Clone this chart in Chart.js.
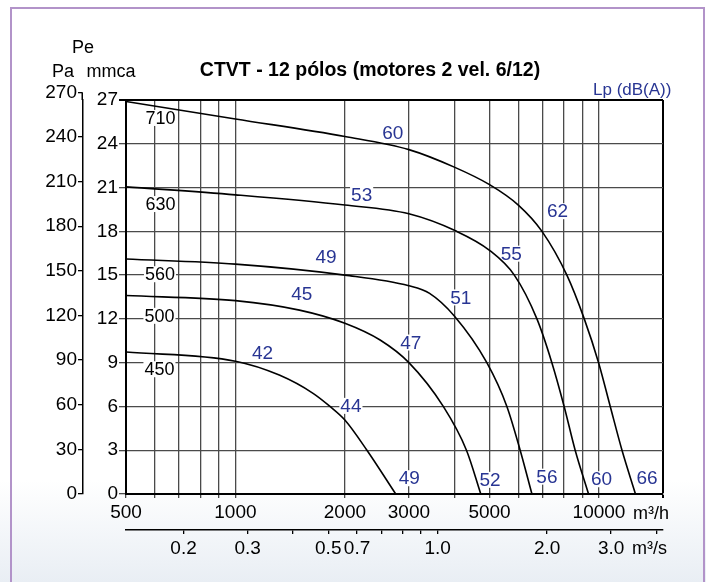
<!DOCTYPE html>
<html>
<head>
<meta charset="utf-8">
<script src="https://cdn.jsdelivr.net/npm/chart.js@4.4.1/dist/chart.umd.min.js"></script>
<style>
  html, body { margin: 0; padding: 0; background: #fff; }
  #wrap {
    position: relative; width: 706px; height: 582px; overflow: hidden;
    background: linear-gradient(to bottom, #fff 0px, #fff 480px, #e9eef4 582px);
  }
  #frame {
    position: absolute; left: 10px; top: 7px; width: 695px; height: 640px;
    border: 2px solid #b293c9; box-sizing: border-box;
  }
  #chart { position: absolute; left: 0; top: 0; }
</style>
</head>
<body>
<div id="wrap">
  <div id="frame"></div>
  <canvas id="chart" width="706" height="582"></canvas>
</div>
<script>
// axis ticks (flow in m3/h on the main axis, m3/s on the second one)
const flowTicks = [500, 600, 700, 800, 900, 1000, 2000, 3000, 4000, 5000, 6000, 7000, 8000, 9000, 10000, 15000];
const flowLabels = ['500', '', '', '', '', '1000', '2000', '3000', '', '5000', '', '', '', '', '10000', ''];
const flowTicksS = [0.2, 0.3, 0.4, 0.5, 0.6, 0.7, 0.8, 0.9, 1.0, 2.0, 3.0, 4.0];
const flowLabelsS = ['0.2', '0.3', '', '0.5', '0.7', '', '', '', '1.0', '2.0', '3.0', ''];
const mmcaTicks = [0, 3, 6, 9, 12, 15, 18, 21, 24, 27];
const paTicks = [0, 30, 60, 90, 120, 150, 180, 210, 240, 270];

// fan curves: flow (m3/h) and pressure (mmca)
const sizes = ['710', '630', '560', '500', '450'];
const flow710 = [500, 1000, 2000, 3000, 4000, 5000, 6000, 6970, 8160, 9110, 9975, 10740, 11570, 12600];
const pres710 = [26.9, 25.7, 24.5, 23.6, 22.4, 21.2, 19.8, 18.0, 15.0, 12.0, 9.0, 6.0, 3.0, 0];
const flow630 = [500, 1000, 2000, 3000, 4060, 5000, 5850, 6750, 7420, 8020, 8600, 9360];
const pres630 = [21.05, 20.5, 19.8, 19.2, 18.0, 16.7, 15.0, 12.0, 9.0, 6.0, 3.0, 0];
const flow560 = [500, 1000, 2000, 3000, 3420, 4000, 4915, 5580, 6070, 6540];
const pres560 = [16.1, 15.75, 15.0, 14.27, 13.75, 12.2, 9.0, 6.0, 3.0, 0];
const flow500 = [500, 1000, 1500, 2000, 2500, 3000, 3730, 4320, 4730];
const pres500 = [13.6, 13.25, 12.6, 11.7, 10.55, 9.0, 6.0, 3.0, 0];
const flow450 = [500, 1000, 1320, 1635, 1820, 2000, 2300, 2760];
const pres450 = [9.73, 9.1, 8.15, 6.9, 6.0, 5.07, 3.0, 0];

// size tags at the left of each curve
const sizeFlow = [622, 622, 620, 618, 618];
const sizePres = [25.77, 19.87, 15.06, 12.21, 8.55];

// sound pressure level marks Lp dB(A)
const lpText = ['60', '53', '62', '55', '49', '45', '51', '47', '42', '44', '49', '52', '56', '60', '66'];
const lpFlow = [2709, 2224, 7690, 5741, 1774, 1522, 4168, 3037, 1187, 2078, 3008, 5018, 7190, 10160, 13560];
const lpPres = [24.74, 20.52, 19.38, 16.47, 16.26, 13.69, 13.47, 10.38, 9.70, 6.04, 1.08, 0.97, 1.19, 1.01, 1.13];

const FONT = '"Liberation Sans", Arial, Helvetica, sans-serif';
const BLUE = '#283593';

Chart.defaults.font.family = FONT;
Chart.defaults.font.size = 19;
Chart.defaults.color = '#000';

function pts(xs, ys) {
  return xs.map((x, i) => ({x: x, y: ys[i]}));
}

const curves = [
  pts(flow710, pres710), pts(flow630, pres630), pts(flow560, pres560),
  pts(flow500, pres500), pts(flow450, pres450)
];

const decor = {
  id: 'decor',
  beforeDraw(chart) {
    const a = chart.chartArea, ctx = chart.ctx;
    ctx.save();
    ctx.fillStyle = '#fff';
    ctx.fillRect(a.left, a.top, a.right - a.left, a.bottom - a.top);
    ctx.restore();
  },
  beforeDatasetsDraw(chart) {
    const ctx = chart.ctx, sx = chart.scales.x, sy = chart.scales.y;
    ctx.save();
    ctx.textAlign = 'center';
    ctx.textBaseline = 'middle';
    const tag = (txt, fx, py, color) => {
      const x = sx.getPixelForValue(fx), y = sy.getPixelForValue(py);
      const w = ctx.measureText(txt).width;
      ctx.fillStyle = '#fff';
      ctx.fillRect(x - w / 2 - 1, y - 8, w + 2, 16);
      ctx.fillStyle = color;
      ctx.fillText(txt, x, y + 1);
    };
    ctx.font = '18px ' + FONT;
    sizes.forEach((s, i) => tag(s, sizeFlow[i], sizePres[i], '#000'));
    ctx.font = '19px ' + FONT;
    lpText.forEach((s, i) => tag(s, lpFlow[i], lpPres[i], BLUE));
    ctx.restore();
  },
  afterDraw(chart) {
    const ctx = chart.ctx;
    ctx.save();
    // Pa axis line reaches up to its 270 tick, above the plot frame
    const pa = chart.scales.yPa;
    ctx.strokeStyle = '#000';
    ctx.lineWidth = 1.5;
    ctx.beginPath();
    ctx.moveTo(pa.right - 0.75, chart.chartArea.top);
    ctx.lineTo(pa.right - 0.75, pa.getPixelForValue(270));
    ctx.stroke();

    ctx.textBaseline = 'middle';
    ctx.fillStyle = '#000';
    ctx.textAlign = 'center';
    ctx.font = 'bold 19.5px ' + FONT;
    ctx.fillText('CTVT - 12 pólos (motores 2 vel. 6/12)', 370, 71);
    ctx.font = '18px ' + FONT;
    ctx.fillText('Pe', 83, 48);
    ctx.fillText('Pa', 63, 72);
    ctx.fillText('mmca', 111, 72);
    ctx.textAlign = 'left';
    ctx.fillText('m³/h', 633, 514);
    ctx.fillText('m³/s', 632, 549);
    ctx.fillStyle = BLUE;
    ctx.font = '17px ' + FONT;
    ctx.fillText('Lp (dB(A))', 593, 90);
    ctx.restore();
  }
};

const setTicks = list => scale => { scale.ticks = list.map(v => ({value: v})); };

new Chart(document.getElementById('chart'), {
  type: 'line',
  data: {
    datasets: curves.map((d, i) => ({
      label: sizes[i],
      data: d,
      borderColor: '#000',
      borderWidth: 1.6,
      pointRadius: 0,
      fill: false,
      cubicInterpolationMode: 'monotone'
    }))
  },
  options: {
    responsive: false,
    animation: false,
    events: [],
    devicePixelRatio: 1,
    layout: {padding: {left: 40, right: 43, top: 100, bottom: 12}},
    plugins: {legend: {display: false}, tooltip: {enabled: false}},
    scales: {
      x: {
        type: 'logarithmic', position: 'bottom', weight: 0, bounds: 'data',
        min: 500, max: 15000,
        afterBuildTicks: setTicks(flowTicks),
        afterFit: s => { s.height = 36; },
        ticks: {autoSkip: false, maxRotation: 0, padding: 3, callback: (v, i) => flowLabels[i]},
        grid: {
          tickLength: 4,
          color: c => (c.tick && c.tick.value === 15000) ? '#000' : '#4a4a4a',
          lineWidth: c => (c.tick && c.tick.value === 15000) ? 2 : 1.3
        },
        border: {display: true, color: '#000', width: 2}
      },
      xs: {
        type: 'logarithmic', position: 'bottom', weight: 1, bounds: 'data',
        min: 500 / 3600, max: 15000 / 3600,
        afterBuildTicks: setTicks(flowTicksS),
        afterFit: s => { s.height = 40; },
        ticks: {autoSkip: false, maxRotation: 0, padding: 3, callback: (v, i) => flowLabelsS[i]},
        grid: {drawOnChartArea: false, tickLength: 4, color: '#000', lineWidth: 1.3},
        border: {display: true, color: '#000', width: 1.5}
      },
      y: {
        type: 'linear', position: 'left', weight: 0, bounds: 'data',
        min: 0, max: 27,
        afterBuildTicks: setTicks(mmcaTicks),
        afterFit: s => { s.width = 43; },
        ticks: {autoSkip: false, padding: 1},
        grid: {
          tickLength: 7,
          color: c => (c.tick && c.tick.value === 27) ? '#000' : '#4a4a4a',
          lineWidth: c => (c.tick && c.tick.value === 27) ? 2 : 1.3
        },
        border: {display: true, color: '#000', width: 2}
      },
      yPa: {
        type: 'linear', position: 'left', weight: 1, bounds: 'data',
        min: 0, max: 27 * 9.81,
        afterBuildTicks: setTicks(paTicks),
        afterFit: s => { s.width = 43; },
        ticks: {autoSkip: false, padding: 1},
        grid: {drawOnChartArea: false, tickLength: 5, color: '#000', lineWidth: 1.3},
        border: {display: true, color: '#000', width: 1.5}
      }
    }
  },
  plugins: [decor]
});
</script>
</body>
</html>
